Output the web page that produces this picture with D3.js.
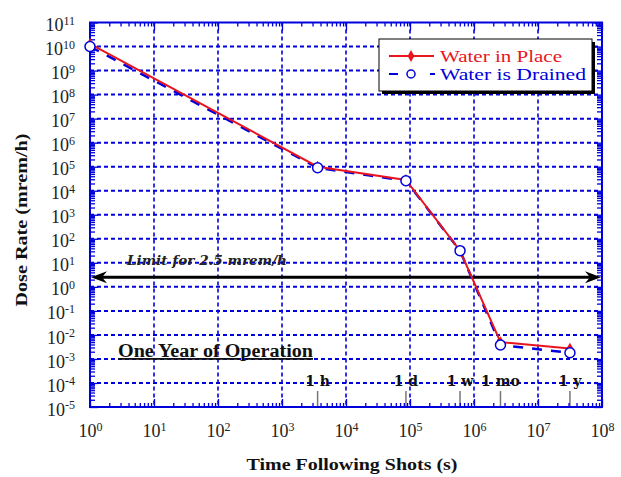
<!DOCTYPE html>
<html>
<head>
<meta charset="utf-8">
<script src="https://cdn.jsdelivr.net/npm/d3@7"></script>
<style>
  html, body { margin: 0; padding: 0; background: #fff; }
  svg { display: block; }
  text { font-family: "Liberation Serif", "Times New Roman", serif; }
</style>
</head>
<body>
<svg id="chart" width="621" height="477"></svg>
<script>
// ---- data ----
const times = [1, 3600, 86400, 604800, 2592000, 31536000];
const waterInPlace = [1.3e10, 1.0e5, 2.8e4, 32, 5.0e-3, 2.7e-3];
const waterDrained = [1.0e10, 9.0e4, 2.6e4, 32, 3.8e-3, 1.8e-3];
const seriesNames = ["Water in Place", "Water is Drained"];
const xDecades = [0, 1, 2, 3, 4, 5, 6, 7, 8];
const yDecades = [-5, -4, -3, -2, -1, 0, 1, 2, 3, 4, 5, 6, 7, 8, 9, 10, 11];
const markerLabels = ["1 h", "1 d", "1 w", "1 mo", "1 y"];
const markerTimes = [3600, 86400, 604800, 2592000, 31536000];
const limitValue = 2.5;
const limitText = "Limit for 2.5 mrem/h";
const noteText = "One Year of Operation";
const xTitle = "Time Following Shots (s)";
const yTitle = "Dose Rate (mrem/h)";

// ---- layout ----
const L = 90, R = 602, T = 22.5, B = 407;
const svg = d3.select("#chart");
const x = d3.scaleLog().domain([1, 1e8]).range([L, R]);
const y = d3.scaleLog().domain([1e-5, 1e11]).range([B, T]);
const blue = "#0000dd", red = "#e8141e";

const minorOf = (lo, hi) => {
  const out = [];
  for (let e = lo; e < hi; e++) for (let m = 2; m <= 9; m++) out.push(m * Math.pow(10, e));
  return out;
};
const xMinor = minorOf(0, 8), yMinor = minorOf(-5, 11);

// grid
const g = svg.append("g");
g.selectAll("line.hg").data(yDecades.slice(1, -1)).join("line")
  .attr("x1", L).attr("x2", R)
  .attr("y1", d => y(Math.pow(10, d))).attr("y2", d => y(Math.pow(10, d)))
  .attr("stroke", blue).attr("stroke-width", 2).attr("stroke-dasharray", "4,3");
g.selectAll("line.vg").data(xDecades.slice(1, -1)).join("line")
  .attr("y1", T).attr("y2", B)
  .attr("x1", d => x(Math.pow(10, d))).attr("x2", d => x(Math.pow(10, d)))
  .attr("stroke", blue).attr("stroke-width", 1.6).attr("stroke-dasharray", "4,3");

// marker tick lines (1 h, 1 d, ...)
svg.append("g").selectAll("line").data(markerTimes).join("line")
  .attr("x1", d => x(d)).attr("x2", d => x(d))
  .attr("y1", B - 16).attr("y2", B)
  .attr("stroke", "#777").attr("stroke-width", 1.5);
svg.append("g").selectAll("text").data(markerLabels).join("text")
  .attr("x", (d, i) => x(markerTimes[i])).attr("y", B - 21)
  .attr("text-anchor", "middle").attr("font-size", 14).attr("font-weight", "bold")
  .style("font-family", "'DejaVu Serif', serif")
  .attr("fill", "#111").text(d => d);

// axes
function styleAxis(sel) {
  sel.select(".domain").remove();
  sel.selectAll(".tick line").attr("stroke", blue).attr("stroke-width", 1.3);
}
const supLabel = function (d) {
  const e = Math.round(Math.log10(d));
  const t = d3.select(this).text(null);
  t.append("tspan").text("10");
  t.append("tspan").attr("dy", "-0.55em").attr("font-size", 12).text(e);
};
const xVals = xDecades.map(e => Math.pow(10, e));
const yVals = yDecades.map(e => Math.pow(10, e));

const xb = svg.append("g").attr("transform", `translate(0,${B})`)
  .call(d3.axisBottom(x).tickValues(xVals).tickSizeInner(-8).tickSizeOuter(0).tickPadding(14));
xb.selectAll(".tick text").attr("font-size", 18).attr("fill", "#222")
  .attr("font-family", "Liberation Serif, serif").attr("dy", "0.9em").each(supLabel);
styleAxis(xb);
const xbm = svg.append("g").attr("transform", `translate(0,${B})`)
  .call(d3.axisBottom(x).tickValues(xMinor).tickSizeInner(-4).tickSizeOuter(0).tickFormat(""));
styleAxis(xbm);
const xt = svg.append("g").attr("transform", `translate(0,${T})`)
  .call(d3.axisTop(x).tickValues(xVals).tickSizeInner(-8).tickSizeOuter(0).tickFormat(""));
styleAxis(xt);
const xtm = svg.append("g").attr("transform", `translate(0,${T})`)
  .call(d3.axisTop(x).tickValues(xMinor).tickSizeInner(-4).tickSizeOuter(0).tickFormat(""));
styleAxis(xtm);

const yl = svg.append("g").attr("transform", `translate(${L},0)`)
  .call(d3.axisLeft(y).tickValues(yVals).tickSizeInner(-8).tickSizeOuter(0).tickPadding(15));
yl.selectAll(".tick text").attr("font-size", 18).attr("fill", "#222")
  .attr("font-family", "Liberation Serif, serif").attr("dy", "0.45em").each(supLabel);
styleAxis(yl);
const ylm = svg.append("g").attr("transform", `translate(${L},0)`)
  .call(d3.axisLeft(y).tickValues(yMinor).tickSizeInner(-5).tickSizeOuter(0).tickFormat(""));
styleAxis(ylm);
const yr = svg.append("g").attr("transform", `translate(${R},0)`)
  .call(d3.axisRight(y).tickValues(yVals).tickSizeInner(-8).tickSizeOuter(0).tickFormat(""));
styleAxis(yr);
const yrm = svg.append("g").attr("transform", `translate(${R},0)`)
  .call(d3.axisRight(y).tickValues(yMinor).tickSizeInner(-5).tickSizeOuter(0).tickFormat(""));
styleAxis(yrm);

// frame
svg.append("rect").attr("x", L).attr("y", T).attr("width", R - L).attr("height", B - T)
  .attr("fill", "none").attr("stroke", blue).attr("stroke-width", 2);

// limit arrow
const ay = y(limitValue);
svg.append("line").attr("x1", x(1) + 8).attr("x2", x(1e8) - 8).attr("y1", ay).attr("y2", ay)
  .attr("stroke", "#000").attr("stroke-width", 3);
const headL = (x0) => `M${x0},${ay} L${x0 + 16},${ay - 6} L${x0 + 11},${ay} L${x0 + 16},${ay + 6} Z`;
const headR = (x0) => `M${x0},${ay} L${x0 - 16},${ay - 6} L${x0 - 11},${ay} L${x0 - 16},${ay + 6} Z`;
svg.append("path").attr("d", headL(x(1) + 1)).attr("fill", "#000");
svg.append("path").attr("d", headR(x(1e8) - 1)).attr("fill", "#000");
svg.append("text").attr("x", 127).attr("y", ay - 12).attr("font-size", 13)
  .style("font-family", "'DejaVu Serif', serif")
  .attr("font-weight", "bold").attr("font-style", "italic").attr("fill", "#222")
  .attr("textLength", 160).attr("lengthAdjust", "spacingAndGlyphs").text(limitText);

// note
svg.append("text").attr("x", 118).attr("y", 357).attr("font-size", 18)
  .attr("font-weight", "bold").attr("fill", "#111").attr("text-decoration", "underline")
  .attr("textLength", 195).attr("lengthAdjust", "spacingAndGlyphs").text(noteText);

// series
const pts = (vals) => times.map((t, i) => [x(t), y(vals[i])]);
const line = d3.line();
svg.append("path").attr("d", line(pts(waterDrained))).attr("fill", "none")
  .attr("stroke", blue).attr("stroke-width", 2.5).attr("stroke-dasharray", "10,9");
svg.append("path").attr("d", line(pts(waterInPlace))).attr("fill", "none")
  .attr("stroke", red).attr("stroke-width", 2);
svg.append("g").selectAll("path").data(pts(waterInPlace)).join("path")
  .attr("transform", d => `translate(${d[0]},${d[1]})`)
  .attr("d", d3.symbol(d3.symbolDiamond, 40)).attr("fill", red);
svg.append("g").selectAll("circle").data(pts(waterDrained)).join("circle")
  .attr("cx", d => d[0]).attr("cy", d => d[1]).attr("r", 5)
  .attr("fill", "#fff").attr("stroke", blue).attr("stroke-width", 1.5);

// legend
const lg = svg.append("g");
lg.append("rect").attr("x", 382).attr("y", 42).attr("width", 213).attr("height", 52).attr("fill", "#000");
lg.append("rect").attr("x", 379).attr("y", 39).attr("width", 213).attr("height", 52)
  .attr("fill", "#fff").attr("stroke", "#000").attr("stroke-width", 1);
lg.append("line").attr("x1", 389).attr("x2", 434).attr("y1", 56).attr("y2", 56)
  .attr("stroke", red).attr("stroke-width", 2);
lg.append("path").attr("transform", "translate(411,56)").attr("d", d3.symbol(d3.symbolDiamond, 40)).attr("fill", red);
lg.append("line").attr("x1", 389).attr("x2", 398).attr("y1", 74).attr("y2", 74)
  .attr("stroke", blue).attr("stroke-width", 2);
lg.append("line").attr("x1", 430).attr("x2", 435).attr("y1", 74).attr("y2", 74)
  .attr("stroke", blue).attr("stroke-width", 2);
lg.append("circle").attr("cx", 411).attr("cy", 74).attr("r", 4).attr("fill", "#fff")
  .attr("stroke", blue).attr("stroke-width", 1.5);
lg.append("text").attr("x", 440).attr("y", 61.5).attr("font-size", 17).attr("fill", red)
  .attr("textLength", 122).attr("lengthAdjust", "spacingAndGlyphs").text(seriesNames[0]);
lg.append("text").attr("x", 440).attr("y", 80).attr("font-size", 17).attr("fill", blue)
  .attr("textLength", 146).attr("lengthAdjust", "spacingAndGlyphs").text(seriesNames[1]);

// titles
svg.append("text").attr("x", 352).attr("y", 470).attr("text-anchor", "middle")
  .attr("font-size", 17).attr("font-weight", "bold").attr("fill", "#111")
  .attr("textLength", 211).attr("lengthAdjust", "spacingAndGlyphs").text(xTitle);
svg.append("text").attr("transform", "translate(27,220) rotate(-90)").attr("text-anchor", "middle")
  .attr("font-size", 17).attr("font-weight", "bold").attr("fill", "#111")
  .attr("textLength", 173).attr("lengthAdjust", "spacingAndGlyphs").text(yTitle);
</script>
</body>
</html>
